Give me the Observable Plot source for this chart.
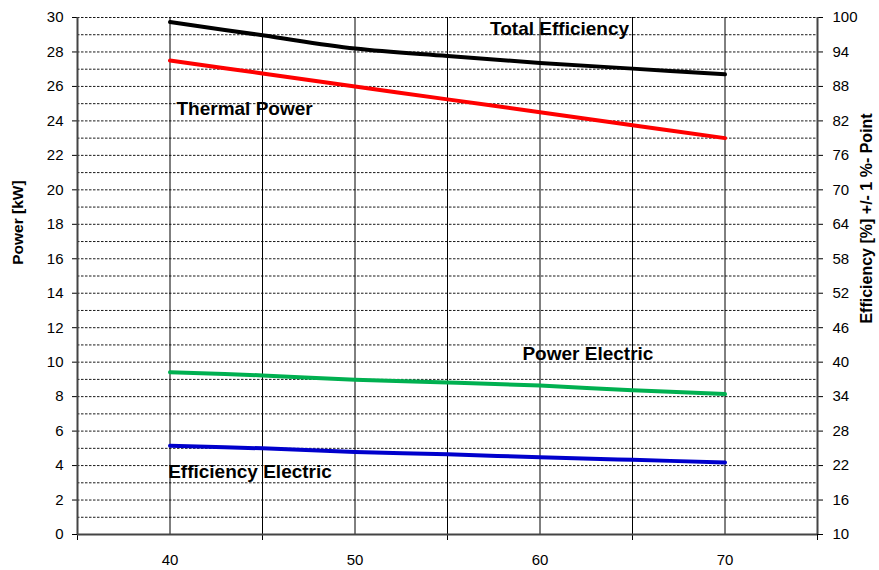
<!DOCTYPE html>
<html>
<head>
<meta charset="utf-8">
<script src="https://cdn.jsdelivr.net/npm/d3@7"></script>
<script src="https://cdn.jsdelivr.net/npm/@observablehq/plot@0.6"></script>
<style>
  html, body { margin: 0; padding: 0; background: #fff; }
  #chart svg { display: block; font-family: "Liberation Sans", Arial, sans-serif; }
</style>
</head>
<body>
<div id="chart"></div>
<script>
// ---- data ----
const speeds = [40, 45, 50, 55, 60, 65, 70];
const thermalPower = [27.5, 26.75, 26.0, 25.25, 24.5, 23.75, 23.0];           // kW (left axis)
const electricPower = [9.42, 9.23, 8.98, 8.82, 8.64, 8.37, 8.15];             // kW (left axis)
const totalEfficiency = [99.2, 96.9, 94.6, 93.3, 92.1, 91.1, 90.1];           // % (right axis)
const electricEfficiency = [25.45, 25.0, 24.35, 23.95, 23.45, 23.0, 22.55];   // % (right axis)

const powerTicks = [0, 2, 4, 6, 8, 10, 12, 14, 16, 18, 20, 22, 24, 26, 28, 30];
const effTicks = [10, 16, 22, 28, 34, 40, 46, 52, 58, 64, 70, 76, 82, 88, 94, 100];
const xLabelTicks = [40, 50, 60, 70];
const xTickMarks = [35, 45, 55, 65, 75];
const xGrid = [40, 45, 50, 55, 60, 65, 70];
const yGrid = d3.range(1, 31);

const seriesLabels = [
  {text: "Total Efficiency", x: 57.3, y: 29.36},
  {text: "Thermal Power", x: 40.35, y: 24.72},
  {text: "Power Electric", x: 59.05, y: 10.5},
  {text: "Efficiency Electric", x: 39.9, y: 3.65}
];
const axisTitles = [
  {text: "Power [kW]", x: 35, y: 18.1, dx: -59},
  {text: "Efficiency [%] +/- 1 %- Point", x: 75, y: 18.34, dx: 49}
];

// right axis (efficiency) mapped onto the left (power) scale
const effToY = e => (e - 10) / 3;
const yToEff = y => Math.round(10 + 3 * y);

const rows = (vals, conv = v => v) => speeds.map((s, i) => ({x: s, y: conv(vals[i])}));

const font = "Liberation Sans, Arial, sans-serif";

const chart = Plot.plot({
  width: 879,
  height: 570,
  marginLeft: 77,
  marginRight: 62,
  marginTop: 17,
  marginBottom: 36,
  style: {fontFamily: font, background: "#fff", color: "#000"},
  x: {domain: [35, 75]},
  y: {domain: [0, 30]},
  marks: [
    Plot.ruleY(yGrid, {stroke: "#000", strokeWidth: 1, strokeDasharray: "2.5,1.5", strokeOpacity: 0.9}),
    Plot.ruleX(xGrid, {stroke: "#000", strokeWidth: 1}),
    Plot.axisY({anchor: "left", ticks: powerTicks, tickSize: 5, tickPadding: 9, fontSize: 15, label: null}),
    Plot.axisY({anchor: "right", ticks: effTicks.map(effToY), tickFormat: yToEff, tickSize: 5, tickPadding: 10, fontSize: 15, label: null}),
    Plot.axisX({ticks: xTickMarks, tickSize: 6, tickFormat: () => "", label: null}),
    Plot.axisX({ticks: xLabelTicks, tickSize: 0, tickPadding: 20, fontSize: 15, label: null}),
    Plot.ruleX([35, 75], {stroke: "#444", strokeWidth: 2}),
    Plot.ruleY([0], {stroke: "#444", strokeWidth: 2}),
    Plot.line(rows(totalEfficiency, effToY), {x: "x", y: "y", stroke: "#000", strokeWidth: 4, curve: "catmull-rom"}),
    Plot.line(rows(thermalPower), {x: "x", y: "y", stroke: "#ff0000", strokeWidth: 4, curve: "catmull-rom"}),
    Plot.line(rows(electricPower), {x: "x", y: "y", stroke: "#00b050", strokeWidth: 4, curve: "catmull-rom"}),
    Plot.line(rows(electricEfficiency, effToY), {x: "x", y: "y", stroke: "#0000cc", strokeWidth: 4, curve: "catmull-rom"}),
    Plot.text(seriesLabels, {x: "x", y: "y", text: "text", textAnchor: "start", fontSize: 19, fontWeight: "bold", fill: "#000", style: "word-spacing:-3px"}),
    Plot.text(axisTitles.slice(0, 1), {x: "x", y: "y", text: "text", dx: -59, rotate: -90, textAnchor: "middle", fontSize: 15.5, fontWeight: "bold", fill: "#000"}),
    Plot.text(axisTitles.slice(1), {x: "x", y: "y", text: "text", dx: 49, rotate: -90, textAnchor: "middle", fontSize: 16, fontWeight: "bold", fill: "#000"})
  ]
});

document.getElementById("chart").appendChild(chart);
</script>
</body>
</html>
